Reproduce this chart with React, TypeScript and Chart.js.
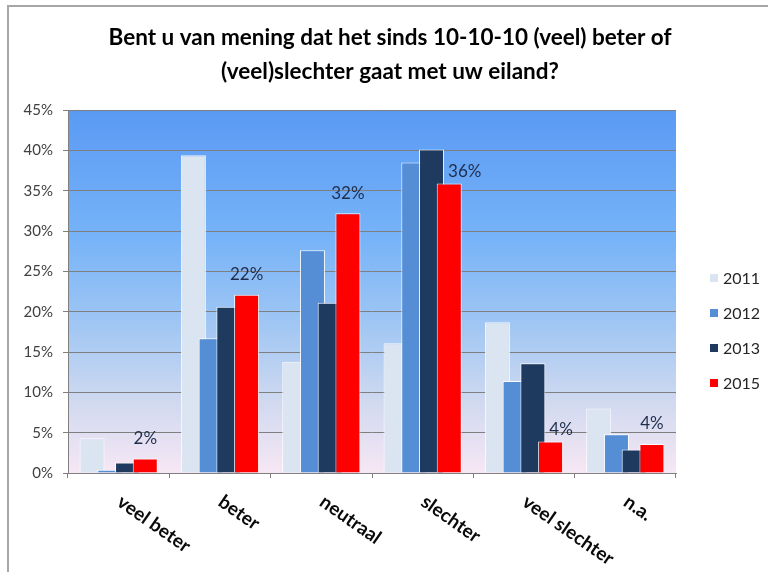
import React, { useEffect, useRef } from "react";
import { Chart, registerables } from "chart.js";

Chart.register(...registerables);

const TITLE_LINES = [
  "Bent u van mening dat het sinds 10-10-10 (veel) beter of",
  "(veel)slechter gaat met uw eiland?",
];
const CATEGORIES = ["veel beter", "beter", "neutraal", "slechter", "veel slechter", "n.a."];
const SERIES_NAMES = ["2011", "2012", "2013", "2015"];
const VALUES_2011 = [4.3, 39.4, 13.8, 16.1, 18.7, 8.0];
const VALUES_2012 = [0.4, 16.7, 27.6, 38.5, 11.4, 4.8];
const VALUES_2013 = [1.3, 20.6, 21.1, 40.1, 13.6, 2.9];
const VALUES_2015 = [1.8, 22.1, 32.2, 35.9, 3.9, 3.6];
const LABELS_2015 = ["2%", "22%", "32%", "36%", "4%", "4%"];
const Y_MAX = 45;
const Y_STEP = 5;

const SERIES_COLORS = ["#dbe5f1", "#558ed5", "#1f3a5f", "#ff0000"];
const FONT = "Lato, 'Open Sans', sans-serif";

const backgroundPlugin = {
  id: "plotBackground",
  beforeDraw(chart: any) {
    const { ctx, chartArea } = chart;
    const g = ctx.createLinearGradient(0, chartArea.top, 0, chartArea.bottom);
    g.addColorStop(0, "#5a9af4");
    g.addColorStop(0.35, "#76b3f8");
    g.addColorStop(0.6, "#a2c7f3");
    g.addColorStop(0.8, "#cfd9f0");
    g.addColorStop(1, "#f7e7f4");
    ctx.save();
    ctx.fillStyle = g;
    ctx.fillRect(chartArea.left, chartArea.top, chartArea.right - chartArea.left, chartArea.bottom - chartArea.top);
    ctx.restore();
  },
};

// Draw later series on top of earlier ones (Excel-style overlap)
const drawOrderPlugin = {
  id: "drawOrder",
  beforeDatasetsDraw(chart: any) {
    const { ctx, chartArea } = chart;
    ctx.save();
    ctx.beginPath();
    ctx.rect(chartArea.left, chartArea.top - 2, chartArea.right - chartArea.left, chartArea.bottom - chartArea.top + 2);
    ctx.clip();
    for (let i = 0; i < chart.data.datasets.length; i++) {
      const meta = chart.getDatasetMeta(i);
      if (!meta.hidden) meta.controller.draw();
    }
    ctx.restore();
    return false;
  },
};

const decorPlugin = {
  id: "decor",
  afterDraw(chart: any) {
    const { ctx, chartArea, scales } = chart;
    ctx.save();

    // Title
    ctx.fillStyle = "#000000";
    ctx.font = `bold 22.5px ${FONT}`;
    ctx.textAlign = "center";
    ctx.textBaseline = "middle";
    TITLE_LINES.forEach((line, i) => ctx.fillText(line, 390, 38 + i * 34));

    // Rotated category labels
    const xs = scales.x;
    ctx.font = `bold 19px ${FONT}`;
    ctx.fillStyle = "#0a0a0a";
    ctx.textAlign = "left";
    ctx.textBaseline = "top";
    CATEGORIES.forEach((c, i) => {
      const x = xs.getPixelForTick(i);
      ctx.save();
      ctx.translate(x + 6, chartArea.bottom + 19);
      ctx.rotate((35 * Math.PI) / 180);
      ctx.fillText(c, 0, 0);
      ctx.restore();
    });

    // Data labels on 2015 series
    const last = chart.getDatasetMeta(3);
    const prev = chart.getDatasetMeta(2);
    ctx.font = `17px ${FONT}`;
    ctx.fillStyle = "#1f2d4d";
    ctx.textBaseline = "middle";
    LABELS_2015.forEach((lab, i) => {
      const el = last.data[i];
      const pe = prev.data[i];
      const w = ctx.measureText(lab).width;
      let cx = el.x;
      let cy = el.y - 20;
      const prevRight = pe.x + pe.width / 2;
      const overlapsPrev = pe.y < cy + 8 && cx - w / 2 < prevRight;
      if (overlapsPrev) {
        cx = prevRight + 4 + w / 2;
        if (pe.y < el.y - 20) cy = el.y - 12;
      }
      ctx.textAlign = "center";
      ctx.fillText(lab, cx, cy);
    });

    // Legend
    ctx.font = `16px ${FONT}`;
    ctx.textAlign = "left";
    ctx.textBaseline = "middle";
    chart.data.datasets.forEach((ds: any, i: number) => {
      const y = 278 + i * 35;
      ctx.fillStyle = ds.backgroundColor;
      ctx.fillRect(710, y - 4, 8, 8);
      ctx.strokeStyle = "rgba(255,255,255,0.8)";
      ctx.lineWidth = 1;
      ctx.strokeRect(709.5, y - 4.5, 9, 9);
      ctx.fillStyle = "#262626";
      ctx.fillText(ds.label, 723, y + 1);
    });

    ctx.restore();
  },
};

export default function App() {
  const ref = useRef<HTMLCanvasElement | null>(null);

  useEffect(() => {
    document.body.style.margin = "0";
    const canvas = ref.current;
    if (!canvas) return;
    const seriesValues = [VALUES_2011, VALUES_2012, VALUES_2013, VALUES_2015];
    const chart = new Chart(canvas, {
      type: "bar",
      data: {
        labels: CATEGORIES,
        datasets: SERIES_NAMES.map((name, i) => ({
          label: name,
          data: seriesValues[i],
          backgroundColor: SERIES_COLORS[i],
          borderColor: "rgba(255,255,255,0.9)",
          borderWidth: 1,
          categoryPercentage: 0.7,
          barPercentage: 1.41,
        })),
      },
      options: {
        responsive: false,
        animation: false,
        layout: { padding: { top: 110, right: 92, left: 0, bottom: 0 } },
        plugins: {
          legend: { display: false },
          title: { display: false },
          tooltip: { enabled: false },
        },
        scales: {
          x: {
            grid: {
              display: true,
              drawOnChartArea: false,
              drawTicks: true,
              tickLength: 5,
              color: "#808080",
              offset: true,
            },
            border: { display: true, color: "#808080", width: 1 },
            ticks: { display: false },
            afterFit(scale: any) {
              scale.height = 99;
            },
          },
          y: {
            min: 0,
            max: Y_MAX,
            ticks: {
              stepSize: Y_STEP,
              padding: 10,
              color: "#404040",
              font: { family: FONT, size: 15 },
              callback: (v: any) => `${v}%`,
            },
            grid: {
              color: "#7f7f7f",
              lineWidth: 1,
              drawTicks: true,
              tickLength: 5,
            },
            border: { display: true, color: "#808080", width: 1 },
            afterFit(scale: any) {
              scale.width = 68;
            },
          },
        },
      },
      plugins: [backgroundPlugin, drawOrderPlugin, decorPlugin],
    });
    return () => chart.destroy();
  }, []);

  return (
    <div style={{ position: "relative", width: 768, height: 572, overflow: "hidden", background: "#ffffff" }}>
      <div
        style={{
          position: "absolute",
          left: 7,
          top: 5,
          width: 900,
          height: 700,
          borderLeft: "2px solid #a6a6a6",
          borderTop: "2px solid #a6a6a6",
        }}
      />
      <canvas ref={ref} width={768} height={572} style={{ position: "absolute", left: 0, top: 0, width: 768, height: 572 }} />
    </div>
  );
}
